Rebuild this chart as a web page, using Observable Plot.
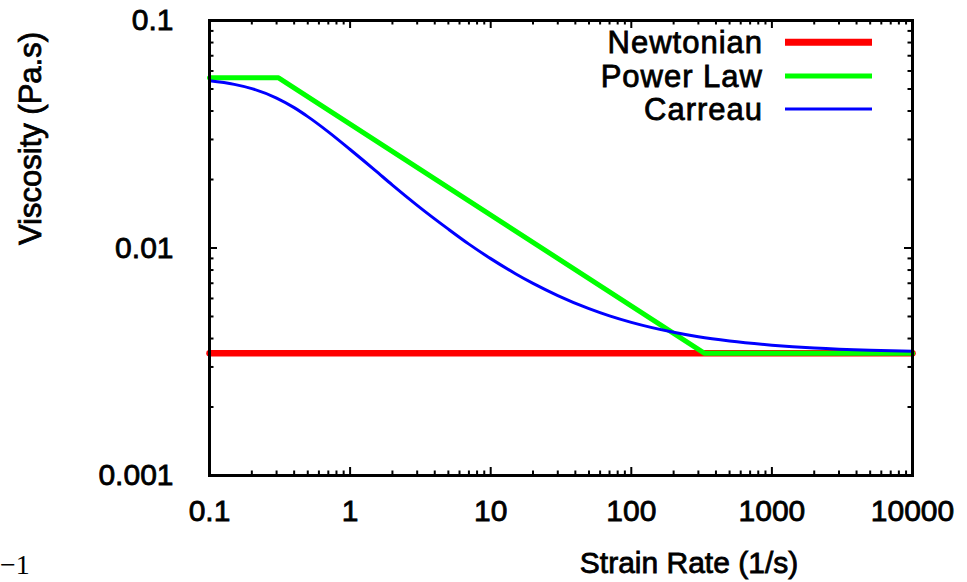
<!DOCTYPE html>
<html>
<head>
<meta charset="utf-8">
<script src="https://cdn.jsdelivr.net/npm/d3@7"></script>
<script src="https://cdn.jsdelivr.net/npm/@observablehq/plot@0.6"></script>
<style>
  html, body { margin: 0; padding: 0; background: #fff; }
  #wrap { position: relative; width: 967px; height: 582px; overflow: hidden; font-family: "Liberation Sans", Arial, sans-serif; }
  #wrap svg text { stroke: #000; stroke-width: 0.8px; paint-order: stroke; }
  .lg { position: absolute; font-size: 31px; color: #000; white-space: nowrap; line-height: 1; -webkit-text-stroke: 0.8px #000; letter-spacing: 1px; }
  .lgt { right: 204px; transform: translateY(-50%); text-align: right; }
  .lgl { position: absolute; left: 785px; width: 87px; transform: translateY(-50%); }
  #m1 { position: absolute; left: 0px; top: 551px; font-family: "Liberation Serif", "Times New Roman", serif; font-size: 28px; line-height: 1; }
</style>
</head>
<body>
<div id="wrap"></div>
<script>
// ---- data ----
const newtRate = [0.1, 10000];
const newtVisc = [0.00345, 0.00345];

const powerRate = [0.1, 0.31, 330, 10000];
const powerVisc = [0.056, 0.056, 0.00345, 0.00345];

const carreauRate = [0.1, 0.15, 0.2, 0.3, 0.4, 0.5, 0.7, 1, 1.5, 2, 3, 5, 7, 10, 15, 20, 30, 50, 70, 100, 200, 300, 500, 1000, 2000, 5000, 10000];
const carreauVisc = [0.0543, 0.0524, 0.0502, 0.0456, 0.0414, 0.0378, 0.0324, 0.0271, 0.0220, 0.0189, 0.0154, 0.0121, 0.0104, 0.00898, 0.00771, 0.00699, 0.00618, 0.00541, 0.00503, 0.00471, 0.00426, 0.00407, 0.00390, 0.00374, 0.00363, 0.00355, 0.00352];

const seriesNames = ["Newtonian", "Power Law", "Carreau"];
const seriesColors = ["#ff0000", "#00ff00", "#0000ff"];

const xTicks = [0.1, 1, 10, 100, 1000, 10000];
const yTicks = [0.001, 0.01, 0.1];
const minorMult = [2, 3, 4, 5, 6, 7, 8, 9];

// ---- build tables ----
const newt = newtRate.map((x, i) => ({x, y: newtVisc[i]}));
const power = powerRate.map((x, i) => ({x, y: powerVisc[i]}));
const carreau = carreauRate.map((x, i) => ({x, y: carreauVisc[i]}));

const xMinor = xTicks.slice(0, -1).flatMap(d => minorMult.map(m => d * m));
const yMinor = yTicks.slice(0, -1).flatMap(d => minorMult.map(m => d * m));

const W = 967, H = 582;
const mL = 209, mR = 55, mT = 20, mB = 107;
const PH = H - mT - mB, PW = W - mL - mR;
const maj = 8, mnr = 4.5;

const chart = Plot.plot({
  width: W, height: H,
  marginLeft: mL, marginRight: mR, marginTop: mT, marginBottom: mB,
  style: {fontFamily: "Liberation Sans, Arial, sans-serif", fontSize: "30px", color: "#000", background: "#fff"},
  x: {type: "log", domain: [0.1, 10000]},
  y: {type: "log", domain: [0.001, 0.1]},
  marks: [
    // inward ticks on all four sides
    Plot.tickX(xTicks, {x: d => d, insetTop: PH - maj, strokeWidth: 2}),
    Plot.tickX(xTicks, {x: d => d, insetBottom: PH - maj, strokeWidth: 2}),
    Plot.tickX(xMinor, {x: d => d, insetTop: PH - mnr, strokeWidth: 2}),
    Plot.tickX(xMinor, {x: d => d, insetBottom: PH - mnr, strokeWidth: 2}),
    Plot.tickY(yTicks, {y: d => d, insetRight: PW - maj, strokeWidth: 2}),
    Plot.tickY(yTicks, {y: d => d, insetLeft: PW - maj, strokeWidth: 2}),
    Plot.tickY(yMinor, {y: d => d, insetRight: PW - mnr, strokeWidth: 2}),
    Plot.tickY(yMinor, {y: d => d, insetLeft: PW - mnr, strokeWidth: 2}),
    Plot.axisX({ticks: xTicks, tickSize: 0, tickPadding: 24, tickFormat: d => String(d), label: null, fontSize: 30}),
    Plot.axisY({ticks: yTicks, tickSize: 0, tickPadding: 36, tickFormat: d => String(d), label: null, fontSize: 30}),
    Plot.line(newt, {x: "x", y: "y", stroke: seriesColors[0], strokeWidth: 6.5}),
    Plot.line(power, {x: "x", y: "y", stroke: seriesColors[1], strokeWidth: 5}),
    Plot.line(carreau, {x: "x", y: "y", stroke: seriesColors[2], strokeWidth: 3, curve: "monotone-x"}),
    Plot.frame({stroke: "#000", strokeWidth: 3}),
    Plot.text(["Strain Rate (1/s)"], {frameAnchor: "bottom", dx: 128, dy: 88, lineAnchor: "middle", fontSize: 30}),
    Plot.text(["Viscosity (Pa.s)"], {frameAnchor: "left", dx: -178, dy: -3, rotate: -90, lineAnchor: "middle", fontSize: 31})
  ]
});

const wrap = document.getElementById("wrap");
wrap.appendChild(chart);

// legend overlay
const rowY = [42, 76, 109];
const rowW = [6.5, 5, 3];
seriesNames.forEach((name, i) => {
  const t = document.createElement("div");
  t.className = "lg lgt";
  t.style.top = rowY[i] + "px";
  t.textContent = name;
  wrap.appendChild(t);
  const l = document.createElement("div");
  l.className = "lgl";
  l.style.top = rowY[i] + "px";
  l.style.height = rowW[i] + "px";
  l.style.background = seriesColors[i];
  wrap.appendChild(l);
});

const m = document.createElement("div");
m.id = "m1";
m.textContent = "\u22121";
wrap.appendChild(m);
</script>
</body>
</html>
